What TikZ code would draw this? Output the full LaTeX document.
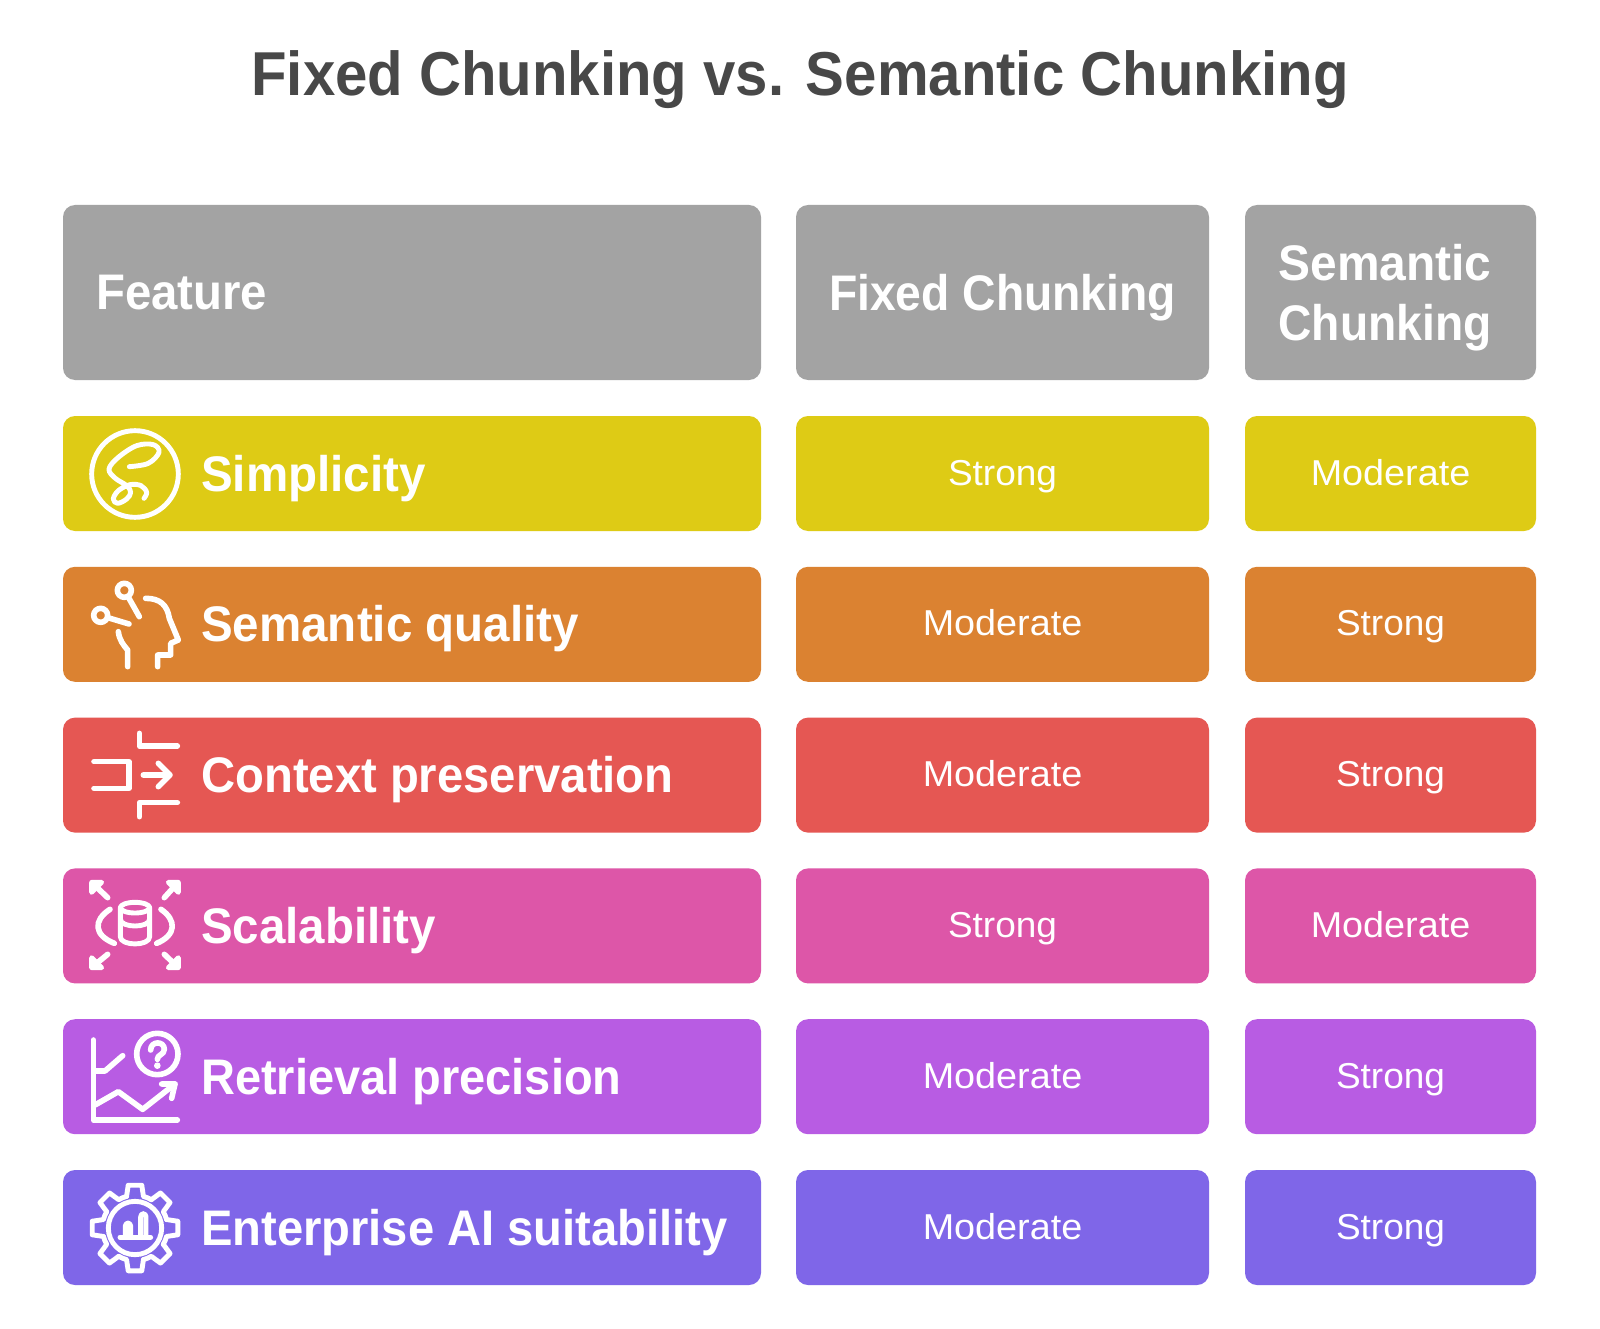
\documentclass[tikz,border=0pt]{standalone}
\usepackage{fontspec}
\usepackage{graphicx}
\setmainfont{Liberation Sans}
\definecolor{cgrey}{HTML}{A3A3A3}
\definecolor{cyellow}{HTML}{DECB15}
\definecolor{corange}{HTML}{DB8231}
\definecolor{cred}{HTML}{E55753}
\definecolor{cpink}{HTML}{DD56A8}
\definecolor{cpurple}{HTML}{B85CE3}
\definecolor{cindigo}{HTML}{7F66E8}
\definecolor{ctitle}{HTML}{484848}
\newcommand{\fitw}[2]{\resizebox{#1pt}{\height}{#2}}
\tikzset{
  x=1pt,y=-1pt,
  boxbase/.style={rectangle,rounded corners=12pt,inner sep=0pt,outer sep=0pt,text=white},
  cell/.style={boxbase,minimum height=115pt,text height=69pt,text depth=46pt,
    font=\fontsize{36}{43}\selectfont},
  headcell/.style={boxbase,fill=cgrey,minimum height=175pt},
  headtext/.style={inner sep=0pt,text=white,font=\bfseries\fontsize{50}{60.7}\selectfont},
  rowtext/.style={anchor=base west,inner sep=0pt,text=white,font=\bfseries\fontsize{50}{60}\selectfont},
  titletext/.style={anchor=base,inner sep=0pt,text=ctitle,font=\bfseries\fontsize{62}{74}\selectfont},
  colA/.style={minimum width=698pt},
  colB/.style={minimum width=413pt},
  colC/.style={minimum width=291pt},
  icon/.style={draw=white,line width=5.6pt,line cap=round,line join=round},
  iconthin/.style={icon,line width=4.9pt},
  iconframe/.style={x=0.33333pt,y=-0.33333pt},
}
\begin{document}
\begin{tikzpicture}
\path[fill=white,use as bounding box] (0,0) rectangle (1600,1329);
\node[titletext] (title) at (800,95.7) {\fitw{1097}{Fixed Chunking vs. Semantic Chunking}};
% header
\node[headcell,colA] (hA) at (412,292.5) {};
\node[headcell,colB,text height=105.5pt,text depth=69.5pt,font=\bfseries\fontsize{50}{60}\selectfont] (hB) at (1002.5,292.5) {\fitw{347}{Fixed Chunking}};
\node[headcell,colC] (hC) at (1390.5,292.5) {};
\node[headtext,anchor=base west] (hAt) at (96,310) {\fitw{171}{Feature}};
\node[headtext,align=center,anchor=base] (hCt) at (1385,340.7) {\fitw{213}{Semantic}\\\fitw{213}{Chunking}};
% rows
\foreach \n/\yc/\col/\lab/\w/\b/\wb/\c/\wc in {
 1/473.5/cyellow/Simplicity/224.5/Strong/109/Moderate/159.5,
 2/624.3/corange/Semantic quality/377.6/Moderate/159.5/Strong/109,
 3/775.1/cred/Context preservation/472.5/Moderate/159.5/Strong/109,
 4/925.9/cpink/Scalability/234.7/Strong/109/Moderate/159.5,
 5/1076.7/cpurple/Retrieval precision/420.4/Moderate/159.5/Strong/109,
 6/1227.5/cindigo/Enterprise AI suitability/526.6/Moderate/159.5/Strong/109}{
  \node[cell,colA,fill=\col] (a\n) at (412,\yc) {};
  \node[cell,colB,fill=\col] (b\n) at (1002.5,\yc) {\fitw{\wb}{\b}};
  \node[cell,colC,fill=\col] (c\n) at (1390.5,\yc) {\fitw{\wc}{\c}};
  \node[rowtext] (t\n) at (201,\yc+17.5) {\fitw{\w}{\lab}};
}
% icon 1: lasso
\begin{scope}[shift={(85,424)},iconframe]
 \draw[iconthin] (150,150) circle[radius=130];
 \draw[iconthin] plot[smooth,tension=0.6] coordinates {(133,128) (190,118) (222,85) (205,62) (155,65) (100,100) (72,135) (90,162) (125,185) (137,205) (125,225) (98,238) (85,225) (100,200) (135,182) (168,185) (185,205) (177,223)};
\end{scope}
% icon 2: head
\begin{scope}[shift={(60,410)},iconframe]
 \draw[icon] (193,541) circle[radius=21];
 \draw[icon] (207,565) -- (238,620);
 \draw[icon] (122,616) circle[radius=21];
 \draw[icon] (147,624) -- (207,642);
 \draw[icon] (175,665) .. controls (178,690) and (190,705) .. (203,720) -- (203,770);
 \draw[icon] (257,565) .. controls (300,565) and (322,585) .. (328,625) -- (355,690) -- (332,700) -- (332,735) -- (293,735) -- (293,770);
\end{scope}
% icon 3: context
\begin{scope}[shift={(60,710)},iconframe]
 \draw[icon] (238,70) -- (238,108) -- (352,108);
 \draw[icon] (102,155) -- (207,155) -- (207,235) -- (102,235);
 \draw[icon] (250,195) -- (328,195);
 \draw[icon] (295,160) -- (330,195) -- (295,230);
 \draw[icon] (352,278) -- (238,278) -- (238,320);
\end{scope}
% icon 4: scalable database
\begin{scope}[shift={(85,875)},iconframe]
 \draw[iconthin,fill=white] (20,52) -- (20,22) -- (50,22) -- cycle;
 \draw[icon] (25,27) -- (68,68);
 \draw[iconthin,fill=white] (250,22) -- (280,22) -- (280,52) -- cycle;
 \draw[icon] (275,27) -- (238,68);
 \draw[iconthin,fill=white] (20,248) -- (20,278) -- (50,278) -- cycle;
 \draw[icon] (25,273) -- (68,238);
 \draw[iconthin,fill=white] (280,248) -- (280,278) -- (250,278) -- cycle;
 \draw[icon] (275,273) -- (238,238);
 \draw[iconthin] (150,98) ellipse[x radius=44,y radius=16];
 \draw[iconthin] (106,98) -- (106,185) .. controls (106,214) and (194,214) .. (194,185) -- (194,98);
 \draw[iconthin] (106,132) .. controls (106,160) and (194,160) .. (194,132);
 \draw[icon] (75,103) .. controls (25,135) and (25,180) .. (88,205);
 \draw[icon] (228,103) .. controls (275,135) and (275,180) .. (215,205);
\end{scope}
% icon 5: chart and question
\begin{scope}[shift={(60,1010)},iconframe]
 \draw[icon] (100,90) -- (100,330) -- (352,330);
 \draw[icon] (105,183) -- (135,183) -- (188,137);
 \draw[icon] (292,132) circle[radius=62];
 \draw[icon] (272,120) .. controls (272,92) and (313,92) .. (313,118) .. controls (313,135) and (292,133) .. (292,148);
 \fill[white] (292,167) circle[radius=10];
 \draw[icon] (105,285) -- (175,245) -- (248,298) -- (345,222);
 \draw[icon] (305,222) -- (345,222) -- (335,265);
\end{scope}
% icon 6: gear
\begin{scope}[shift={(85,1178)},iconframe]
 \begin{scope}[shift={(150,150)}]
  \foreach \a in {0,45,...,315}{
   \draw[iconthin] (\a-15:98) -- (\a-9:130) -- (\a+9:130) -- (\a+15:98) arc[start angle=\a+15,end angle=\a+30,radius=98];
  }
  \draw[iconthin] (0,0) circle[radius=80];
 \end{scope}
 \draw[iconthin] (105,178) -- (197,178);
 \draw[iconthin,rounded corners=3pt] (121,178) -- (121,135) -- (137,135) -- (137,178);
 \draw[iconthin,rounded corners=3pt] (167,178) -- (167,107) -- (183,107) -- (183,178);
\end{scope}
\end{tikzpicture}
\end{document}
